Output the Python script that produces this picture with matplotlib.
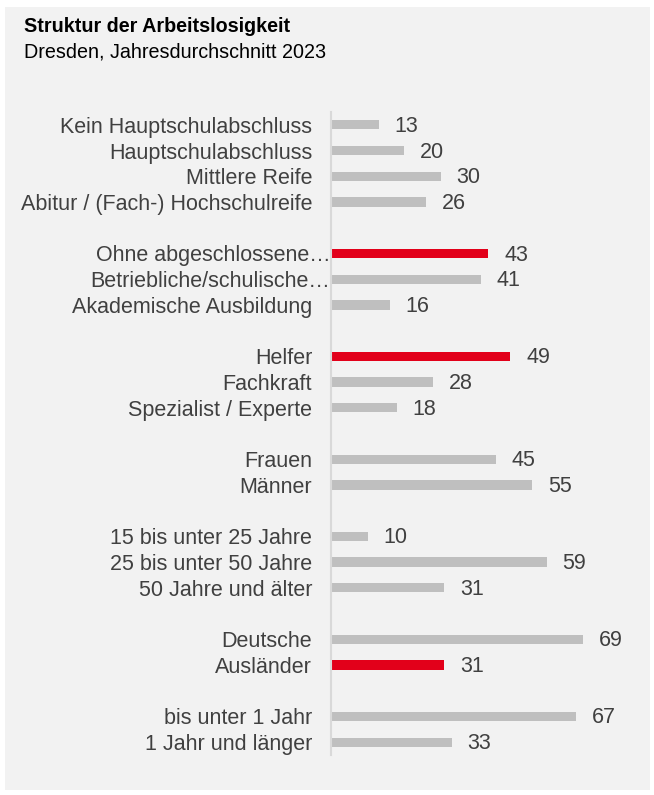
import matplotlib.pyplot as plt
from matplotlib.patches import Rectangle
from matplotlib.transforms import ScaledTranslation

plt.rcParams['font.family'] = ['Liberation Sans', 'DejaVu Sans']

# Gruppen von Kategorien (Leerzeile zwischen den Gruppen)
groups = [
    ['Kein Hauptschulabschluss', 'Hauptschulabschluss', 'Mittlere Reife',
     'Abitur / (Fach-) Hochschulreife'],
    ['Ohne abgeschlossene…', 'Betriebliche/schulische…', 'Akademische Ausbildung'],
    ['Helfer', 'Fachkraft', 'Spezialist / Experte'],
    ['Frauen', 'Männer'],
    ['15 bis unter 25 Jahre', '25 bis unter 50 Jahre', '50 Jahre und älter'],
    ['Deutsche', 'Ausländer'],
    ['bis unter 1 Jahr', '1 Jahr und länger'],
]
values = [
    [13, 20, 30, 26],
    [43, 41, 16],
    [49, 28, 18],
    [45, 55],
    [10, 59, 31],
    [69, 31],
    [67, 33],
]
highlight = ['Ohne abgeschlossene…', 'Helfer', 'Ausländer']

grey = '#bfbfbf'
red = '#e2001a'
text_col = '#404040'

labels, vals, pos = [], [], []
row = 0
for g, v in zip(groups, values):
    for name, val in zip(g, v):
        labels.append(name)
        vals.append(val)
        pos.append(row)
        row += 1
    row += 1

fig = plt.figure(figsize=(6.54, 7.95), dpi=100)
fig.patch.set_facecolor('white')
fig.patches.append(Rectangle((5 / 654, 1 - 790 / 795), 645 / 654, 783 / 795,
                             transform=fig.transFigure, facecolor='#f2f2f2',
                             edgecolor='none', zorder=-1))

fig.text(24 / 654, 1 - 27 / 795, 'Struktur der Arbeitslosigkeit', fontsize=14.2,
         fontweight='bold', color='black', va='center')
fig.text(24 / 654, 1 - 52 / 795, 'Dresden, Jahresdurchschnitt 2023', fontsize=14.2,
         color='black', va='center')

ax = fig.add_axes([331 / 654, 1 - 755 / 795, 311 / 654, 643 / 795])
ax.set_facecolor('none')
colors = [red if l in highlight else grey for l in labels]
ax.barh(pos, vals, height=0.36, color=colors)
for p, v in zip(pos, vals):
    ax.text(v + 4.3, p + 0.06, str(v), va='center', ha='left', fontsize=15.5,
            color=text_col)

ax.set_xlim(0, 85)
ax.set_ylim(pos[-1] + 0.5, -0.5)
ax.set_yticks(pos)
ax.set_yticklabels(labels, fontsize=15.5, color=text_col)
ax.tick_params(axis='y', length=0, pad=13.5)
ax.set_xticks([])
for s in ['top', 'right', 'bottom']:
    ax.spines[s].set_visible(False)
ax.spines['left'].set_color('#d9d9d9')
ax.spines['left'].set_linewidth(1.5)

# abgeschnittene Beschriftungen reichen bis an die Achse
shift = ScaledTranslation(18 / 100, 0, fig.dpi_scale_trans)
for t in ax.get_yticklabels():
    if t.get_text().endswith('…'):
        t.set_transform(t.get_transform() + shift)

fig.savefig('out.png', dpi=100, facecolor=fig.get_facecolor())
